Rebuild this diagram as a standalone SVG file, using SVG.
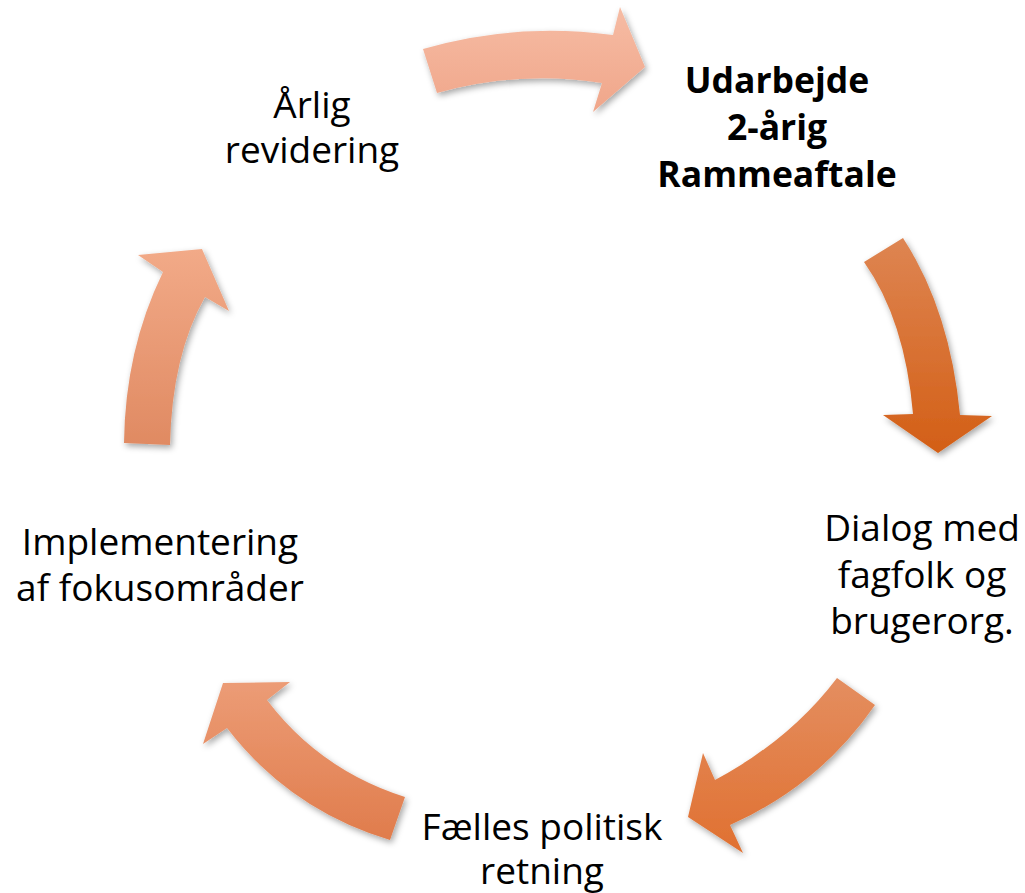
<svg xmlns="http://www.w3.org/2000/svg" width="1025" height="893" viewBox="0 0 1025 893">
<style>
text{font-family:"Open Sans","Liberation Sans",sans-serif;font-size:37px;fill:#000;text-anchor:middle}
.b{font-weight:bold;font-size:35.5px}
.arr{filter:url(#sh)}
</style>
<defs>
<filter id="sh" x="-20%" y="-20%" width="140%" height="140%">
<feDropShadow dx="2" dy="3" stdDeviation="3" flood-color="#000" flood-opacity="0.35"/>
</filter>
<linearGradient id="g1" x1="0" y1="0" x2="0" y2="1"><stop offset="0" stop-color="#f6bca4"/><stop offset="1" stop-color="#f0a68a"/></linearGradient>
<linearGradient id="g2" x1="0" y1="0" x2="0" y2="1"><stop offset="0" stop-color="#de8552"/><stop offset="1" stop-color="#d35f16"/></linearGradient>
<linearGradient id="g3" x1="0" y1="0" x2="0" y2="1"><stop offset="0" stop-color="#e48e60"/><stop offset="1" stop-color="#e07030"/></linearGradient>
<linearGradient id="g4" x1="0" y1="0" x2="0" y2="1"><stop offset="0" stop-color="#ec9c76"/><stop offset="1" stop-color="#e07c4c"/></linearGradient>
<linearGradient id="g5" x1="0" y1="0" x2="0" y2="1"><stop offset="0" stop-color="#f2aa88"/><stop offset="1" stop-color="#e08a62"/></linearGradient>
</defs>
<g id="connectors">
<path class="arr" fill="url(#g1)" d="M423,49 Q515,22 613,35 L620,7 L645,67 L593,112 L602,83 Q520,70 437,93 Z"/>
<path class="arr" fill="url(#g2)" d="M864,262 L903,238 Q950,310 960,415 L992,416 L938,453 L883,415 L913,414 Q905,320 864,262 Z"/>
<path class="arr" fill="url(#g3)" d="M837,678 L875,705 Q820,785 730,825 L743,853 L688,817 L703,753 L715,780 Q790,740 837,678 Z"/>
<path class="arr" fill="url(#g4)" d="M405,797 L390,840 Q290,810 227,728 L203,744 L223,683 L290,682 L267,700 Q320,770 405,797 Z"/>
<path class="arr" fill="url(#g5)" d="M124,443 L170,445 Q172,355 205,297 L229,311 L202,249 L138,255 L163,272 Q125,350 124,443 Z"/>
</g>
<g id="node-arlig"><text x="312" y="118">Årlig</text><text x="312" y="163">revidering</text></g>
<g id="node-udarbejde"><text class="b" x="777" y="93">Udarbejde</text><text class="b" x="777" y="140">2-årig</text><text class="b" x="777" y="187">Rammeaftale</text></g>
<g id="node-dialog"><text x="922" y="541">Dialog med</text><text x="922" y="588">fagfolk og</text><text x="922" y="634">brugerorg.</text></g>
<g id="node-faelles"><text x="542" y="840">Fælles politisk</text><text x="542" y="884">retning</text></g>
<g id="node-implementering"><text x="160" y="555">Implementering</text><text x="160" y="601">af fokusområder</text></g>
</svg>
